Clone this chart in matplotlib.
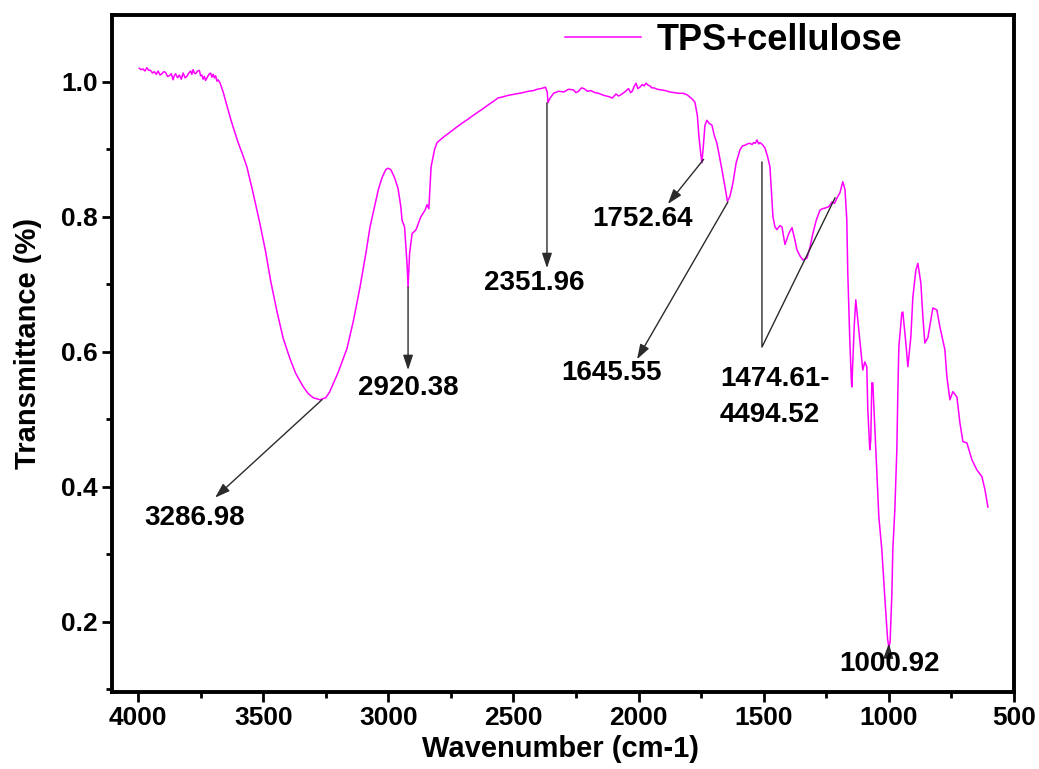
import matplotlib
matplotlib.use("Agg")
import matplotlib.pyplot as plt
from matplotlib.ticker import MultipleLocator, FormatStrFormatter

plt.rcParams['font.family'] = ['Liberation Sans', 'DejaVu Sans']
plt.rcParams['font.weight'] = 'bold'

# FTIR spectrum of the TPS+cellulose film (wavenumber in cm-1, transmittance)
wavenumber = [
    3995, 3987, 3980, 3972, 3965, 3957, 3950, 3942, 3935, 3927, 3920, 3912,
    3905, 3897, 3890, 3882, 3875, 3867, 3860, 3855, 3850, 3842, 3835, 3827,
    3820, 3812, 3805, 3797, 3790, 3785, 3780, 3775, 3770, 3762, 3755, 3750,
    3745, 3740, 3735, 3730, 3724, 3717, 3710, 3705, 3700, 3695, 3690, 3685,
    3680, 3672, 3660, 3645, 3630, 3620, 3600, 3580, 3565, 3540, 3513, 3490,
    3470, 3445, 3420, 3393, 3370, 3341, 3320, 3300, 3273, 3250, 3235, 3221,
    3200, 3180, 3165, 3140, 3113, 3090, 3073, 3055, 3040, 3025, 3010, 3001,
    2990, 2975, 2961, 2950, 2945, 2935, 2925, 2921, 2915, 2905, 2889, 2870,
    2853, 2845, 2838, 2829, 2815, 2805, 2780, 2758, 2730, 2700, 2680, 2658,
    2630, 2600, 2580, 2562, 2540, 2520, 2490, 2462, 2440, 2420, 2405, 2390,
    2380, 2372, 2365, 2362, 2355, 2340, 2320, 2298, 2280, 2260, 2250, 2240,
    2228, 2218, 2205, 2190, 2175, 2160, 2140, 2118, 2105, 2090, 2080, 2070,
    2055, 2040, 2032, 2025, 2018, 2010, 2003, 1995, 1985, 1978, 1970, 1962,
    1955, 1947, 1939, 1925, 1910, 1893, 1875, 1858, 1840, 1822, 1807, 1797,
    1787, 1775, 1765, 1759, 1752, 1747, 1740, 1735, 1727, 1717, 1707, 1697,
    1687, 1677, 1667, 1655, 1645, 1635, 1623, 1610, 1595, 1585, 1575, 1565,
    1555, 1547, 1540, 1533, 1527, 1520, 1515, 1505, 1495, 1485, 1475, 1463,
    1455, 1447, 1435, 1427, 1415, 1400, 1387, 1375, 1367, 1355, 1343, 1327,
    1315, 1303, 1290, 1275, 1265, 1255, 1240, 1227, 1217, 1207, 1195, 1184,
    1175, 1168, 1164, 1156, 1150, 1148, 1144, 1138, 1132, 1124, 1112, 1104,
    1096, 1088, 1084, 1076, 1072, 1068, 1064, 1056, 1048, 1040, 1028, 1015,
    1005, 1000, 995, 988, 984, 976, 968, 964, 960, 948, 944, 932,
    924, 912, 904, 892, 884, 872, 864, 856, 844, 824, 808, 796,
    776, 768, 756, 744, 728, 716, 704, 688, 668, 648, 628, 616,
    604,
]
transmittance = [
    1.020, 1.018, 1.019, 1.016, 1.021, 1.017, 1.017, 1.013, 1.015, 1.011, 1.016, 1.010,
    1.012, 1.015, 1.014, 1.008, 1.009, 1.012, 1.003, 1.009, 1.012, 1.006, 1.010, 1.004,
    1.013, 1.006, 1.008, 1.013, 1.016, 1.011, 1.018, 1.013, 1.012, 1.016, 1.017, 1.009,
    1.010, 1.004, 1.008, 1.002, 1.006, 1.011, 1.013, 1.007, 1.011, 1.006, 1.009, 1.001,
    1.003, 0.998, 0.985, 0.965, 0.945, 0.933, 0.910, 0.890, 0.874, 0.835, 0.790, 0.748,
    0.705, 0.660, 0.620, 0.590, 0.568, 0.549, 0.538, 0.532, 0.529, 0.532, 0.540, 0.552,
    0.570, 0.590, 0.605, 0.645, 0.696, 0.745, 0.785, 0.815, 0.840, 0.858, 0.870, 0.872,
    0.870, 0.858, 0.842, 0.815, 0.795, 0.785, 0.730, 0.696, 0.745, 0.775, 0.781, 0.800,
    0.810, 0.818, 0.812, 0.874, 0.900, 0.910, 0.918, 0.924, 0.932, 0.940, 0.945, 0.951,
    0.958, 0.966, 0.971, 0.976, 0.978, 0.980, 0.982, 0.984, 0.986, 0.987, 0.989, 0.990,
    0.991, 0.992, 0.985, 0.969, 0.975, 0.983, 0.986, 0.985, 0.989, 0.988, 0.984, 0.986,
    0.991, 0.990, 0.986, 0.987, 0.984, 0.983, 0.980, 0.978, 0.976, 0.982, 0.979, 0.981,
    0.985, 0.990, 0.984, 0.986, 0.993, 0.998, 0.990, 0.992, 0.996, 0.994, 0.998, 0.995,
    0.994, 0.991, 0.991, 0.989, 0.988, 0.987, 0.985, 0.984, 0.983, 0.983, 0.981, 0.978,
    0.975, 0.970, 0.950, 0.920, 0.895, 0.880, 0.910, 0.935, 0.943, 0.938, 0.936, 0.920,
    0.909, 0.890, 0.870, 0.845, 0.823, 0.830, 0.850, 0.880, 0.899, 0.905, 0.906, 0.908,
    0.909, 0.907, 0.910, 0.909, 0.914, 0.908, 0.910, 0.907, 0.902, 0.890, 0.874, 0.800,
    0.785, 0.781, 0.787, 0.785, 0.759, 0.775, 0.784, 0.765, 0.751, 0.742, 0.736, 0.739,
    0.755, 0.776, 0.795, 0.810, 0.812, 0.813, 0.815, 0.822, 0.820, 0.828, 0.836, 0.852,
    0.840, 0.796, 0.717, 0.618, 0.560, 0.548, 0.584, 0.640, 0.677, 0.647, 0.603, 0.573,
    0.585, 0.578, 0.514, 0.455, 0.470, 0.554, 0.554, 0.489, 0.425, 0.356, 0.307, 0.230,
    0.175, 0.162, 0.170, 0.240, 0.307, 0.366, 0.455, 0.539, 0.607, 0.658, 0.659, 0.613,
    0.578, 0.622, 0.681, 0.721, 0.731, 0.702, 0.652, 0.613, 0.621, 0.665, 0.662, 0.637,
    0.603, 0.563, 0.529, 0.541, 0.533, 0.495, 0.467, 0.465, 0.440, 0.425, 0.415, 0.396,
    0.370,
]

series_label = "TPS+cellulose"
x_ticks = [4000, 3500, 3000, 2500, 2000, 1500, 1000, 500]
y_ticks = [0.2, 0.4, 0.6, 0.8, 1.0]

line_color = "#FF00FF"
arrow_color = "#2b2b2b"

fig = plt.figure(figsize=(10.39, 7.69), dpi=100)
ax = fig.add_axes([0.1078, 0.1001, 0.8681, 0.8804])

ax.plot(wavenumber, transmittance, color=line_color, lw=1.1, label=series_label)

ax.set_xlim(4104, 500)
ax.set_ylim(0.096, 1.099)
ax.set_xticks(x_ticks)
ax.set_yticks(y_ticks)
ax.xaxis.set_minor_locator(MultipleLocator(250))
ax.yaxis.set_minor_locator(MultipleLocator(0.1))
ax.yaxis.set_major_formatter(FormatStrFormatter('%.1f'))

for s in ax.spines.values():
    s.set_linewidth(2.8)
ax.tick_params(axis='both', which='major', direction='out', length=7, width=2,
               labelsize=19, pad=3, top=False, right=False)
ax.tick_params(axis='both', which='minor', direction='out', length=4.5, width=2,
               top=False, right=False)
for lbl in ax.get_xticklabels() + ax.get_yticklabels():
    lbl.set_fontweight('bold')

ax.set_xlabel("Wavenumber (cm-1)", fontsize=21, fontweight='bold')
ax.set_ylabel("Transmittance (%)", fontsize=21, fontweight='bold')
ax.xaxis.set_label_coords(0.497, -0.064)
ax.yaxis.set_label_coords(-0.078, 0.5155)

leg = ax.legend(loc='center left', bbox_to_anchor=(0.502, 0.963), frameon=False,
                fontsize=26, handlelength=2.1, handletextpad=0.45,
                borderpad=0, borderaxespad=0)
for t in leg.get_texts():
    t.set_fontweight('bold')

arrow_kw = dict(arrowstyle='-|>,head_length=0.9,head_width=0.3', color=arrow_color,
                lw=1.0, shrinkA=0, shrinkB=0)
label_kw = dict(fontsize=20, fontweight='bold', color='black')

# O-H stretching band
ax.annotate('', xy=(3692, 0.384), xytext=(3265, 0.529), arrowprops=arrow_kw)
ax.text(3775, 0.354, "3286.98", ha='center', va='center', **label_kw)

# C-H stretching
ax.annotate('', xy=(2921, 0.573), xytext=(2921, 0.696), arrowprops=arrow_kw)
ax.text(2921, 0.547, "2920.38", ha='center', va='center', **label_kw)

# CO2 band
ax.annotate('', xy=(2366, 0.724), xytext=(2366, 0.969), arrowprops=arrow_kw)
ax.text(2418, 0.702, "2351.96", ha='center', va='center', **label_kw)

# C=O stretching
ax.annotate('', xy=(1883, 0.819), xytext=(1740, 0.885), arrowprops=arrow_kw)
ax.text(1983, 0.797, "1752.64", ha='center', va='center', **label_kw)

# absorbed water
ax.annotate('', xy=(2006, 0.589), xytext=(1643, 0.822), arrowprops=arrow_kw)
ax.text(2110, 0.569, "1645.55", ha='center', va='center', **label_kw)

# CH2 bending range
ax.plot([1507, 1507, 1215], [0.881, 0.607, 0.828], color=arrow_color, lw=1.0)
ax.text(1675, 0.559, "1474.61-", ha='left', va='center', **label_kw)
ax.text(1675, 0.507, "4494.52", ha='left', va='center', **label_kw)

# C-O stretching
ax.annotate('', xy=(1000, 0.168), xytext=(1002, 0.146), arrowprops=arrow_kw)
ax.text(996, 0.138, "1000.92", ha='center', va='center', **label_kw)

fig.savefig("out.png", dpi=100)
